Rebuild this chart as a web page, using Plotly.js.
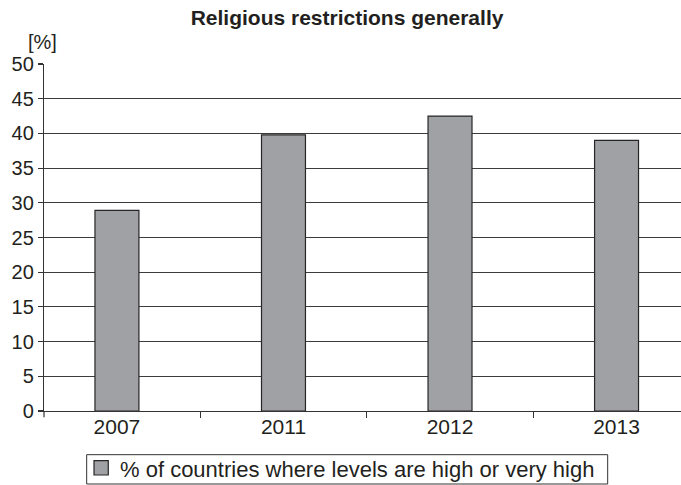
<!DOCTYPE html>
<html>
<head>
<meta charset="utf-8">
<script src="https://cdn.plot.ly/plotly-3.0.1.min.js"></script>
<style>
  html, body { margin: 0; padding: 0; background: #fff; overflow: hidden; }
  #chart { width: 681px; height: 485px; }
</style>
</head>
<body>
<div id="chart"></div>
<script>
// Share of countries with high or very high religious restrictions
const years = ['2007', '2011', '2012', '2013'];
const sharePct = [28.9, 39.8, 42.5, 39.0];
const seriesName = '% of countries where levels are high or very high';
const yTicks = [0, 5, 10, 15, 20, 25, 30, 35, 40, 45, 50];

const ink = '#231f20';
const barFill = '#a0a1a5';
const barEdge = '#262626';
const font = 'Liberation Sans, Arial, Helvetica, sans-serif';

const trace = {
  type: 'bar',
  x: years,
  y: sharePct,
  name: seriesName,
  showlegend: false,
  marker: { color: barFill, line: { color: barEdge, width: 1.2 } },
  hoverinfo: 'x+y'
};

// Key below the plot: framed box, swatch and series name (paper coordinates)
const key = { x0: 0.0670, x1: 0.8849, y0: -0.2104, y1: -0.1259 };
const swatch = { x0: 0.0785, x1: 0.1009, y0: -0.1844, y1: -0.1432 };

const layout = {
  width: 681,
  height: 485,
  margin: { l: 44, r: 0, t: 64, b: 74, autoexpand: false },
  paper_bgcolor: '#ffffff',
  plot_bgcolor: '#ffffff',
  font: { family: font, color: ink, size: 21 },
  title: {
    text: '<b>Religious restrictions generally</b>',
    font: { family: font, size: 21, color: ink },
    xref: 'paper', x: 0.4757, xanchor: 'center',
    yref: 'container', y: 0.964, yanchor: 'middle'
  },
  bargap: 0.736,
  xaxis: {
    type: 'category',
    range: [-0.438, 3.387],
    showgrid: false,
    showline: true, linecolor: '#333333', linewidth: 1.2,
    ticks: 'outside', tickson: 'boundaries', ticklen: 6,
    tickcolor: '#333333', tickwidth: 1.2,
    ticklabelstandoff: -3,
    tickfont: { family: font, size: 21, color: ink },
    automargin: false,
    fixedrange: true
  },
  yaxis: {
    range: [0, 50],
    tickvals: yTicks,
    showgrid: true, gridcolor: '#3c3c3c', gridwidth: 1.2,
    zeroline: false,
    showline: true, linecolor: '#333333', linewidth: 1.2,
    ticks: 'outside', ticklen: 5, tickcolor: '#333333', tickwidth: 1.2,
    tickfont: { family: font, size: 20, color: ink },
    automargin: false,
    fixedrange: true
  },
  annotations: [
    {
      text: '[%]',
      xref: 'paper', yref: 'paper',
      x: -0.0016, y: 1.063,
      xanchor: 'center', yanchor: 'middle',
      showarrow: false,
      font: { family: font, size: 20, color: ink }
    },
    {
      text: seriesName,
      xref: 'paper', yref: 'paper',
      x: 0.1160, y: (key.y0 + key.y1) / 2,
      xanchor: 'left', yanchor: 'middle',
      showarrow: false,
      font: { family: font, size: 22, color: ink }
    }
  ],
  shapes: [
    {
      // short stub of the value axis below the baseline
      type: 'line', xref: 'paper', yref: 'paper',
      x0: 0, x1: 0, y0: 0, y1: -0.018,
      line: { color: '#333333', width: 1.2 }
    },
    {
      type: 'rect', xref: 'paper', yref: 'paper',
      x0: key.x0, x1: key.x1, y0: key.y0, y1: key.y1,
      line: { color: '#333333', width: 1 }, fillcolor: '#ffffff'
    },
    {
      type: 'rect', xref: 'paper', yref: 'paper',
      x0: swatch.x0, x1: swatch.x1, y0: swatch.y0, y1: swatch.y1,
      line: { color: barEdge, width: 1.2 }, fillcolor: barFill
    }
  ]
};

Plotly.newPlot('chart', [trace], layout, { displayModeBar: false, staticPlot: true });
</script>
</body>
</html>
